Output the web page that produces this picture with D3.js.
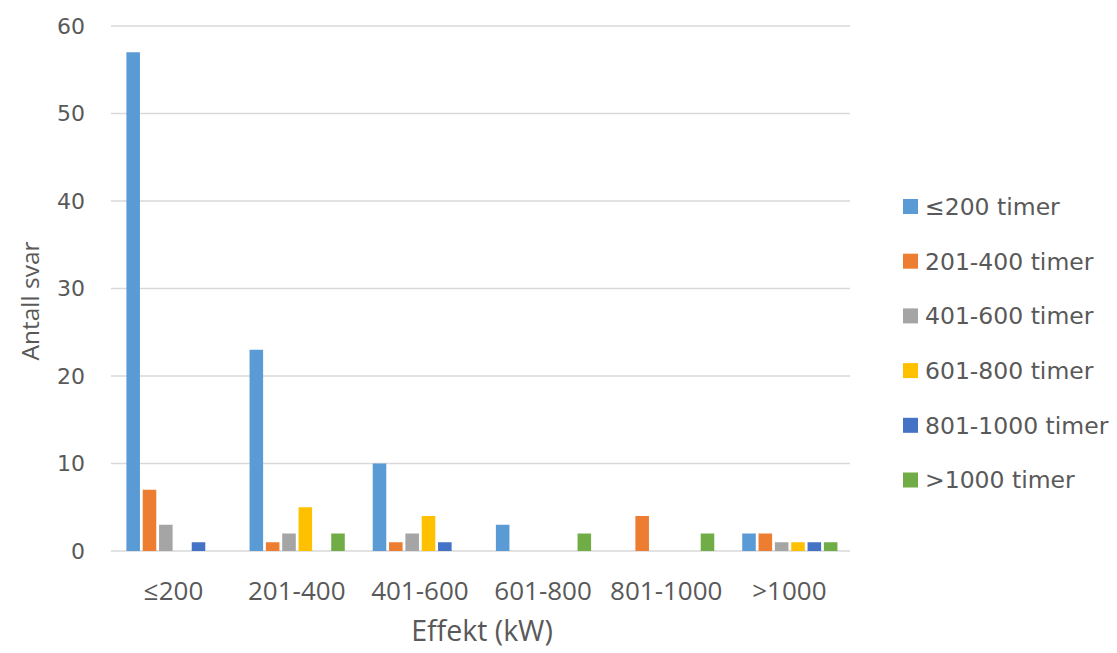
<!DOCTYPE html>
<html><head><meta charset="utf-8">
<script src="https://cdn.jsdelivr.net/npm/d3@7"></script>
<style>
body{margin:0;background:#fff;}
text{fill:#595959;font-family:'Open Sans',sans-serif;}
</style></head>
<body>
<svg id="chart" width="1117" height="653"></svg>
<script>
const categories = ["≤200","201-400","401-600","601-800","801-1000",">1000"];
const seriesNames = ["≤200 timer","201-400 timer","401-600 timer","601-800 timer","801-1000 timer",">1000 timer"];
const s1 = [57,23,10,3,0,2];
const s2 = [7,1,1,0,4,2];
const s3 = [3,2,2,0,0,1];
const s4 = [0,5,4,0,0,1];
const s5 = [1,0,1,0,0,1];
const s6 = [0,2,0,2,2,1];
const seriesValues = [s1,s2,s3,s4,s5,s6];
const colors = ["#5B9BD5","#ED7D31","#A5A5A5","#FFC000","#4472C4","#70AD47"];
const yTicks = [0,10,20,30,40,50,60];
const xTitle = "Effekt (kW)";
const yTitle = "Antall svar";

(function(){
const svg = d3.select("#chart");
const mLeft = 111, mRight = 850, mTop = 26, mBottom = 551;

const y = d3.scaleLinear().domain([0,60]).range([mBottom, mTop]);
const x0 = d3.scaleBand().domain(categories).range([mLeft, mRight]).padding(0);
const x1 = d3.scaleBand().domain(seriesNames).range([14, 112]).paddingInner(0.17).paddingOuter(0.085);

svg.append("g").selectAll("line").data(yTicks).join("line")
  .attr("x1", mLeft).attr("x2", mRight)
  .attr("y1", d => y(d)).attr("y2", d => y(d))
  .attr("stroke", "#d9d9d9").attr("stroke-width", 1.3);

svg.append("g").selectAll("text").data(yTicks).join("text")
  .attr("x", 85).attr("y", d => y(d)).attr("dy", "0.36em")
  .attr("text-anchor", "end")
  .style("font-family", "'DejaVu Sans', sans-serif")
  .style("font-size", "22px")
  .text(d => d);

const groups = svg.append("g").selectAll("g").data(categories).join("g")
  .attr("transform", c => `translate(${x0(c)},0)`);
groups.selectAll("rect").data((c, ci) => seriesNames.map((s, si) => ({s, si, v: seriesValues[si][ci]})))
  .join("rect")
  .attr("x", d => x1(d.s)).attr("width", x1.bandwidth())
  .attr("y", d => y(d.v)).attr("height", d => y(0) - y(d.v))
  .attr("fill", d => colors[d.si]);

svg.append("g").selectAll("text").data(categories).join("text")
  .attr("x", c => x0(c) + x0.bandwidth()/2 + 1).attr("y", 600)
  .attr("text-anchor", "middle")
  .style("font-size", "26px")
  .text(c => c);

svg.append("text").attr("x", 482).attr("y", 641).attr("text-anchor", "middle")
  .style("font-size", "28.5px")
  .text(xTitle);

svg.append("text").attr("transform", "translate(39,301) rotate(-90)").attr("text-anchor", "middle")
  .style("font-size", "24.5px")
  .text(yTitle);

const leg = svg.append("g").selectAll("g").data(seriesNames).join("g")
  .attr("transform", (d, i) => `translate(903, ${206.5 + i*54.7})`);
leg.append("rect").attr("x", 0).attr("y", -7.5).attr("width", 15).attr("height", 15)
  .attr("fill", (d, i) => colors[i]);
leg.append("text").attr("x", 22).attr("y", 0).attr("dy", "0.36em")
  .style("font-family", "'DejaVu Sans', sans-serif")
  .style("font-size", "23.5px")
  .text(d => d);
})();
</script>
</body></html>
